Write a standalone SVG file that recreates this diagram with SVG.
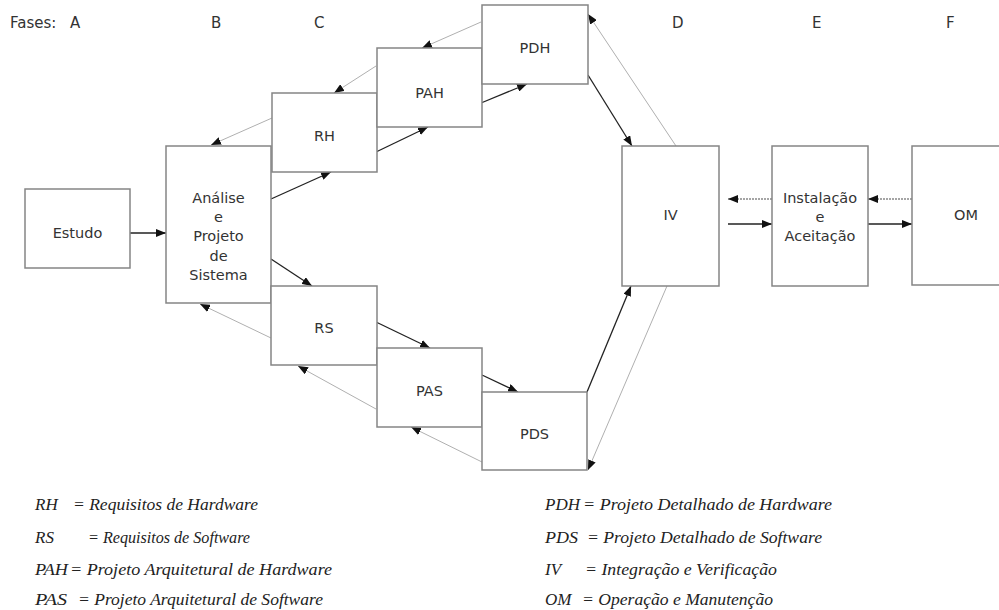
<svg xmlns="http://www.w3.org/2000/svg" width="999" height="610" viewBox="0 0 999 610">
<style>
.box{fill:#fff;stroke:#858585;stroke-width:1.5}
.lbl{font-family:"DejaVu Sans","Liberation Sans",sans-serif;font-size:14.5px;fill:#333;text-anchor:middle}
.ph{font-family:"DejaVu Sans","Liberation Sans",sans-serif;font-size:15px;fill:#333}
.fw{fill:none;stroke:#222;stroke-width:1.3}
.bk{fill:none;stroke:#b0b0b0;stroke-width:1}
.dt{fill:none;stroke:#888;stroke-width:1.3;stroke-dasharray:2 1}
.lg{font-family:"Liberation Serif","Times New Roman",serif;font-style:italic;font-size:17px;fill:#222}
</style>
<defs>
<marker id="ah" markerUnits="userSpaceOnUse" markerWidth="10" markerHeight="8" refX="10" refY="4" orient="auto">
<path d="M0,0 L10,4 L0,8 z" fill="#111"/>
</marker>
</defs>
<rect width="999" height="610" fill="#fff"/>
<g id="phases">
<text class="ph" x="10" y="28">Fases:</text>
<text class="ph" x="70" y="28">A</text>
<text class="ph" x="211" y="28">B</text>
<text class="ph" x="314" y="28">C</text>
<text class="ph" x="672" y="28">D</text>
<text class="ph" x="812" y="28">E</text>
<text class="ph" x="946" y="28">F</text>
</g>
<g id="connectors">
<path class="fw" d="M130,233 L166,233" marker-end="url(#ah)"/>
<path class="fw" d="M271,199 L331,172" marker-end="url(#ah)"/>
<path class="fw" d="M376,152 L428,127" marker-end="url(#ah)"/>
<path class="fw" d="M481,103 L527,84" marker-end="url(#ah)"/>
<path class="fw" d="M588,75 L632,146" marker-end="url(#ah)"/>
<path class="bk" d="M676,146 L588,14" marker-end="url(#ah)"/>
<path class="fw" d="M271,259 L312,286" marker-end="url(#ah)"/>
<path class="fw" d="M376,322 L430,348" marker-end="url(#ah)"/>
<path class="fw" d="M482,375 L518,392" marker-end="url(#ah)"/>
<path class="fw" d="M587,392 L631,286" marker-end="url(#ah)"/>
<path class="bk" d="M667,286 L588,470" marker-end="url(#ah)"/>
<path class="bk" d="M272,118 L211,145" marker-end="url(#ah)"/>
<path class="bk" d="M376,66 L334,93" marker-end="url(#ah)"/>
<path class="bk" d="M481,22 L422,48" marker-end="url(#ah)"/>
<path class="bk" d="M271,338 L200,304" marker-end="url(#ah)"/>
<path class="bk" d="M376,409 L298,366" marker-end="url(#ah)"/>
<path class="bk" d="M482,462 L411,427" marker-end="url(#ah)"/>
<path class="fw" d="M728,224 L772,224" marker-end="url(#ah)"/>
<path class="dt" d="M772,199 L728,199" marker-end="url(#ah)"/>
<path class="fw" d="M868,224 L912,224" marker-end="url(#ah)"/>
<path class="dt" d="M912,199 L868,199" marker-end="url(#ah)"/>
</g>
<g id="estudo"><rect class="box" x="25" y="189" width="105" height="79"/><text class="lbl" x="77.5" y="238">Estudo</text></g>
<g id="analise"><rect class="box" x="166" y="146" width="105" height="157"/>
<text class="lbl" x="218.5" y="203">Análise</text>
<text class="lbl" x="218.5" y="222">e</text>
<text class="lbl" x="218.5" y="241">Projeto</text>
<text class="lbl" x="218.5" y="261">de</text>
<text class="lbl" x="218.5" y="280">Sistema</text></g>
<g id="rh"><rect class="box" x="272" y="93" width="105" height="79"/><text class="lbl" x="324.5" y="141">RH</text></g>
<g id="pah"><rect class="box" x="377" y="48" width="105" height="79"/><text class="lbl" x="429.5" y="98">PAH</text></g>
<g id="pdh"><rect class="box" x="482" y="5" width="106" height="79"/><text class="lbl" x="535" y="53">PDH</text></g>
<g id="rs"><rect class="box" x="271" y="286" width="106" height="79"/><text class="lbl" x="324" y="333">RS</text></g>
<g id="pas"><rect class="box" x="377" y="348" width="105" height="79"/><text class="lbl" x="429.5" y="396">PAS</text></g>
<g id="pds"><rect class="box" x="482" y="392" width="105" height="78"/><text class="lbl" x="534.5" y="439">PDS</text></g>
<g id="iv"><rect class="box" x="622" y="146" width="97" height="140"/><text class="lbl" x="670.5" y="220">IV</text></g>
<g id="instalacao"><rect class="box" x="772" y="146" width="96" height="140"/>
<text class="lbl" x="820" y="203">Instalação</text>
<text class="lbl" x="820" y="222">e</text>
<text class="lbl" x="820" y="241">Aceitação</text></g>
<g id="om"><rect class="box" x="912" y="146" width="110" height="139"/><text class="lbl" x="966" y="220">OM</text></g>
<g id="legend">
<text class="lg" x="35" y="510">RH</text><text class="lg" x="73" y="510" textLength="185" lengthAdjust="spacingAndGlyphs">= Requisitos de Hardware</text>
<text class="lg" x="35" y="543">RS</text><text class="lg" x="88" y="543" textLength="162" lengthAdjust="spacingAndGlyphs">= Requisitos de Software</text>
<text class="lg" x="35" y="575" textLength="33" lengthAdjust="spacingAndGlyphs">PAH</text><text class="lg" x="70" y="575" textLength="262" lengthAdjust="spacingAndGlyphs">= Projeto Arquitetural de Hardware</text>
<text class="lg" x="35" y="605" textLength="32" lengthAdjust="spacingAndGlyphs">PAS</text><text class="lg" x="78" y="605" textLength="245" lengthAdjust="spacingAndGlyphs">= Projeto Arquitetural de Software</text>
<text class="lg" x="545" y="510" textLength="35" lengthAdjust="spacingAndGlyphs">PDH</text><text class="lg" x="583" y="510" textLength="249" lengthAdjust="spacingAndGlyphs">= Projeto Detalhado de Hardware</text>
<text class="lg" x="545" y="543" textLength="33" lengthAdjust="spacingAndGlyphs">PDS</text><text class="lg" x="587" y="543" textLength="235" lengthAdjust="spacingAndGlyphs">= Projeto Detalhado de Software</text>
<text class="lg" x="545" y="575">IV</text><text class="lg" x="585" y="575" textLength="192" lengthAdjust="spacingAndGlyphs">= Integração e Verificação</text>
<text class="lg" x="545" y="605">OM</text><text class="lg" x="582" y="605" textLength="191" lengthAdjust="spacingAndGlyphs">= Operação e Manutenção</text>
</g>
</svg>
